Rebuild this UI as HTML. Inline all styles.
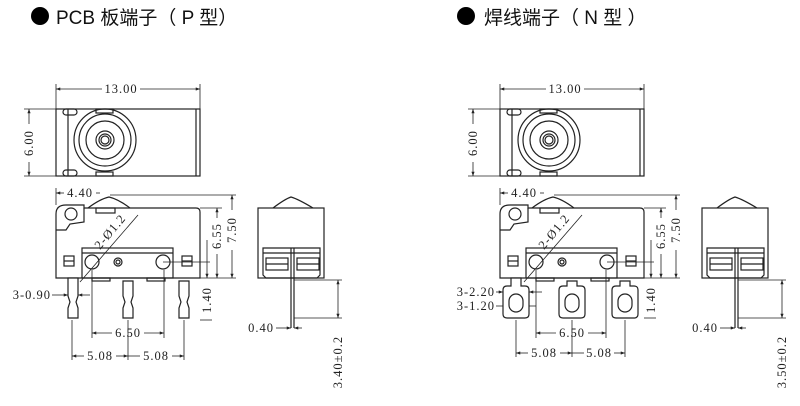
<!DOCTYPE html>
<html><head><meta charset="utf-8"><style>
html,body{margin:0;padding:0;background:#fff;width:800px;height:406px;overflow:hidden}
svg text{font-family:"Liberation Serif","Noto Serif CJK SC",serif;font-size:12.5px;fill:#222;letter-spacing:1px}
.t{font-family:"Liberation Sans","Noto Sans CJK SC",sans-serif;font-size:19px;fill:#111;letter-spacing:0}
</style></head><body>
<svg width="800" height="406" viewBox="0 0 800 406" xmlns="http://www.w3.org/2000/svg">
<defs>
<marker id="a" viewBox="0 0 8 6" refX="8" refY="3" markerWidth="6" markerHeight="4" orient="auto-start-reverse"><path d="M0,0L8,3L0,6z" fill="#222"/></marker>
<g id="top" fill="none" stroke="#222" stroke-width="1.2">
<rect x="56" y="109" width="144" height="67"/>
<line x1="68" y1="109" x2="68" y2="176"/>
<line x1="196" y1="109" x2="196" y2="176"/>
<rect x="63" y="109" width="14" height="6" rx="3"/>
<rect x="63" y="170" width="14" height="6" rx="3"/>
<rect x="96" y="109" width="17" height="4"/>
<rect x="96" y="172" width="17" height="4"/>
<circle cx="105" cy="140" r="31"/>
<circle cx="105" cy="140" r="26"/>
<circle cx="105" cy="140" r="19"/>
<circle cx="105" cy="140" r="9"/>
<circle cx="105" cy="140" r="6"/>
<circle cx="105" cy="140" r="4"/>
</g>
<g id="side" fill="none" stroke="#222" stroke-width="1.2">
<path d="M56,278 L56,214 Q56,205 66,205 L84,205 L84,208 L196,208 Q200,208 200,212 L200,278 Z"/>
<circle cx="71" cy="214" r="6"/>
<path d="M56,230 L66,230 L70,224 L84,222 L84,208"/>
<path d="M88,208 Q100,199 109,197 Q118,199 130,208"/>
<rect x="96" y="208" width="19" height="5"/>
<rect x="82" y="248" width="91" height="30"/>
<line x1="82" y1="253" x2="173" y2="253"/>
<rect x="64" y="256" width="10" height="10"/><line x1="64" y1="261" x2="74" y2="261"/>
<rect x="182" y="256" width="10" height="10"/><line x1="182" y1="261" x2="192" y2="261"/>
<circle cx="92" cy="262" r="7"/><circle cx="118" cy="262" r="4"/><circle cx="118" cy="262" r="2"/>
<circle cx="163" cy="262" r="7"/>
<rect x="92" y="278" width="18" height="3"/><rect x="147" y="278" width="18" height="3"/>
<line x1="163" y1="262" x2="210" y2="262" stroke-width="0.8"/>
<line x1="80" y1="282" x2="138" y2="215" stroke-width="0.8"/>
<line x1="200" y1="208" x2="222" y2="208" stroke-width="0.8"/>
<line x1="110" y1="195" x2="236" y2="195" stroke-width="0.8"/>
<line x1="200" y1="278" x2="236" y2="278" stroke-width="0.8"/>
</g>
<g id="end" fill="none" stroke="#222" stroke-width="1.2">
<rect x="258" y="208" width="66" height="70"/>
<path d="M273,208 Q285,199 291,197 Q298,199 313,208"/>
<path d="M263,248 L320,248 L320,275 L317,278 L266,278 L263,275 Z"/>
<line x1="263" y1="253" x2="320" y2="253"/>
<rect x="266" y="258" width="22" height="12"/><line x1="266" y1="264" x2="288" y2="264"/>
<rect x="297" y="258" width="22" height="12"/><line x1="297" y1="264" x2="319" y2="264"/>
<line x1="291" y1="248" x2="291" y2="278"/>
<line x1="294" y1="248" x2="294" y2="278"/>
</g>
</defs>

<circle cx="40" cy="16" r="9" fill="#000"/>
<text class="t" x="56" y="24">PCB 板端子（ P 型）</text>
<circle cx="466" cy="16" r="9" fill="#000"/>
<text class="t" x="484" y="24">焊线端子（ N 型 ）</text>

<!-- LEFT -->
<use href="#top"/><use href="#side"/><use href="#end"/>
<g fill="none" stroke="#222" stroke-width="0.8">
<line x1="56" y1="84" x2="56" y2="109"/><line x1="200" y1="84" x2="200" y2="109"/>
<line x1="56" y1="89" x2="102" y2="89" marker-start="url(#a)"/><line x1="140" y1="89" x2="200" y2="89" marker-end="url(#a)"/>
<line x1="24" y1="109" x2="56" y2="109"/><line x1="24" y1="176" x2="56" y2="176"/>
<line x1="29" y1="109" x2="29" y2="124" marker-start="url(#a)"/><line x1="29" y1="162" x2="29" y2="176" marker-end="url(#a)"/>
<line x1="56" y1="188" x2="56" y2="205"/>
<line x1="56" y1="193" x2="64" y2="193" marker-start="url(#a)"/><line x1="96" y1="193" x2="100" y2="193"/>
<line x1="217" y1="208" x2="217" y2="218" marker-start="url(#a)"/><line x1="217" y1="254" x2="217" y2="278" marker-end="url(#a)"/>
<line x1="232" y1="195" x2="232" y2="210" marker-start="url(#a)"/><line x1="232" y1="250" x2="232" y2="278" marker-end="url(#a)"/>
<line x1="207" y1="240" x2="207" y2="278" marker-end="url(#a)"/>
<line x1="200" y1="320" x2="212" y2="320"/>
<line x1="52" y1="295" x2="68" y2="295" marker-end="url(#a)"/><line x1="90" y1="295" x2="78" y2="295" marker-end="url(#a)"/>
<line x1="92" y1="270" x2="92" y2="338"/><line x1="164" y1="270" x2="164" y2="338"/>
<line x1="92" y1="333" x2="112" y2="333" marker-start="url(#a)"/><line x1="144" y1="333" x2="164" y2="333" marker-end="url(#a)"/>
<line x1="72" y1="320" x2="72" y2="360"/><line x1="128" y1="320" x2="128" y2="360"/><line x1="184" y1="320" x2="184" y2="360"/>
<line x1="72" y1="356" x2="84" y2="356" marker-start="url(#a)"/><line x1="116" y1="356" x2="128" y2="356" marker-end="url(#a)"/>
<line x1="128" y1="356" x2="140" y2="356"/><line x1="172" y1="356" x2="184" y2="356" marker-end="url(#a)"/>
<line x1="294" y1="280" x2="342" y2="280"/><line x1="294" y1="318" x2="342" y2="318"/>
<line x1="338" y1="280" x2="338" y2="318" marker-start="url(#a)" marker-end="url(#a)"/>
<line x1="276" y1="328" x2="291" y2="328" marker-end="url(#a)"/><line x1="302" y1="328" x2="294" y2="328" marker-end="url(#a)"/>
</g>
<g fill="#fff" stroke="#222" stroke-width="1.2">
<path d="M68,278 L78,278 L78,296 L76,302 L78,308 L78,318 L68,318 L68,308 L70,302 L68,296 Z"/>
<path d="M123,281 L133,281 L133,296 L131,302 L133,308 L133,318 L123,318 L123,308 L125,302 L123,296 Z"/>
<path d="M179,281 L189,281 L189,296 L187,302 L189,308 L189,318 L179,318 L179,308 L181,302 L179,296 Z"/>
<line x1="291" y1="278" x2="291" y2="328"/><line x1="294" y1="278" x2="294" y2="328"/>
</g>
<text x="121" y="93" text-anchor="middle">13.00</text>
<text transform="translate(33,143) rotate(-90)" text-anchor="middle">6.00</text>
<text x="80" y="197" text-anchor="middle">4.40</text>
<text transform="translate(221,236) rotate(-90)" text-anchor="middle">6.55</text>
<text transform="translate(236,230) rotate(-90)" text-anchor="middle">7.50</text>
<text transform="translate(211,300) rotate(-90)" text-anchor="middle">1.40</text>
<text transform="translate(100,250) rotate(-50)" font-size="11">2-Ø1.2</text>
<text x="51" y="299" text-anchor="end">3-0.90</text>
<text x="128" y="337" text-anchor="middle">6.50</text>
<text x="100" y="360" text-anchor="middle">5.08</text>
<text x="156" y="360" text-anchor="middle">5.08</text>
<text x="274" y="332" text-anchor="end">0.40</text>
<text transform="translate(342,362) rotate(-90)" text-anchor="middle">3.40±0.2</text>

<!-- RIGHT -->
<g transform="translate(444,0)">
<use href="#top"/><use href="#side"/><use href="#end"/>
<g fill="none" stroke="#222" stroke-width="0.8">
<line x1="56" y1="84" x2="56" y2="109"/><line x1="200" y1="84" x2="200" y2="109"/>
<line x1="56" y1="89" x2="102" y2="89" marker-start="url(#a)"/><line x1="140" y1="89" x2="200" y2="89" marker-end="url(#a)"/>
<line x1="24" y1="109" x2="56" y2="109"/><line x1="24" y1="176" x2="56" y2="176"/>
<line x1="29" y1="109" x2="29" y2="124" marker-start="url(#a)"/><line x1="29" y1="162" x2="29" y2="176" marker-end="url(#a)"/>
<line x1="56" y1="188" x2="56" y2="205"/>
<line x1="56" y1="193" x2="64" y2="193" marker-start="url(#a)"/><line x1="96" y1="193" x2="100" y2="193"/>
<line x1="217" y1="208" x2="217" y2="218" marker-start="url(#a)"/><line x1="217" y1="254" x2="217" y2="278" marker-end="url(#a)"/>
<line x1="232" y1="195" x2="232" y2="210" marker-start="url(#a)"/><line x1="232" y1="250" x2="232" y2="278" marker-end="url(#a)"/>
<line x1="207" y1="240" x2="207" y2="278" marker-end="url(#a)"/>
<line x1="200" y1="318" x2="212" y2="318"/>
<line x1="52" y1="292" x2="59" y2="292" marker-end="url(#a)"/><line x1="98" y1="292" x2="85" y2="292" marker-end="url(#a)"/>
<line x1="52" y1="306" x2="64" y2="306" marker-end="url(#a)"/><line x1="92" y1="306" x2="78" y2="306" marker-end="url(#a)"/>
<line x1="92" y1="270" x2="92" y2="338"/><line x1="162" y1="270" x2="162" y2="338"/>
<line x1="92" y1="333" x2="112" y2="333" marker-start="url(#a)"/><line x1="144" y1="333" x2="162" y2="333" marker-end="url(#a)"/>
<line x1="72" y1="320" x2="72" y2="357"/><line x1="128" y1="320" x2="128" y2="357"/><line x1="181" y1="320" x2="181" y2="357"/>
<line x1="72" y1="353" x2="84" y2="353" marker-start="url(#a)"/><line x1="116" y1="353" x2="128" y2="353" marker-end="url(#a)"/>
<line x1="128" y1="353" x2="140" y2="353"/><line x1="170" y1="353" x2="181" y2="353" marker-end="url(#a)"/>
<line x1="294" y1="280" x2="342" y2="280"/><line x1="294" y1="318" x2="342" y2="318"/>
<line x1="338" y1="280" x2="338" y2="318" marker-start="url(#a)" marker-end="url(#a)"/>
<line x1="276" y1="328" x2="291" y2="328" marker-end="url(#a)"/><line x1="302" y1="328" x2="294" y2="328" marker-end="url(#a)"/>
</g>
<g fill="#fff" stroke="#222" stroke-width="1.2">
<path d="M67,278 L77,278 L77,286 L81,286 Q85,286 85,290 L85,314 Q85,318 81,318 L63,318 Q59,318 59,314 L59,290 Q59,286 63,286 L67,286 Z"/>
<rect x="65" y="294" width="14" height="18" rx="7"/>
<path d="M123,281 L133,281 L133,286 L137,286 Q141,286 141,290 L141,314 Q141,318 137,318 L119,318 Q115,318 115,314 L115,290 Q115,286 119,286 L123,286 Z"/>
<rect x="121" y="294" width="14" height="18" rx="7"/>
<path d="M176,281 L186,281 L186,286 L190,286 Q194,286 194,290 L194,314 Q194,318 190,318 L172,318 Q168,318 168,314 L168,290 Q168,286 172,286 L176,286 Z"/>
<rect x="174" y="294" width="14" height="18" rx="7"/>
<line x1="291" y1="278" x2="291" y2="328"/><line x1="294" y1="278" x2="294" y2="328"/>
</g>
<text x="121" y="93" text-anchor="middle">13.00</text>
<text transform="translate(33,143) rotate(-90)" text-anchor="middle">6.00</text>
<text x="80" y="197" text-anchor="middle">4.40</text>
<text transform="translate(221,236) rotate(-90)" text-anchor="middle">6.55</text>
<text transform="translate(236,230) rotate(-90)" text-anchor="middle">7.50</text>
<text transform="translate(211,300) rotate(-90)" text-anchor="middle">1.40</text>
<text transform="translate(100,250) rotate(-50)" font-size="11">2-Ø1.2</text>
<text x="51" y="296" text-anchor="end">3-2.20</text>
<text x="51" y="310" text-anchor="end">3-1.20</text>
<text x="128" y="337" text-anchor="middle">6.50</text>
<text x="100" y="357" text-anchor="middle">5.08</text>
<text x="155" y="357" text-anchor="middle">5.08</text>
<text x="274" y="332" text-anchor="end">0.40</text>
<text transform="translate(342,362) rotate(-90)" text-anchor="middle">3.50±0.2</text>
</g>
</svg>
</body></html>
